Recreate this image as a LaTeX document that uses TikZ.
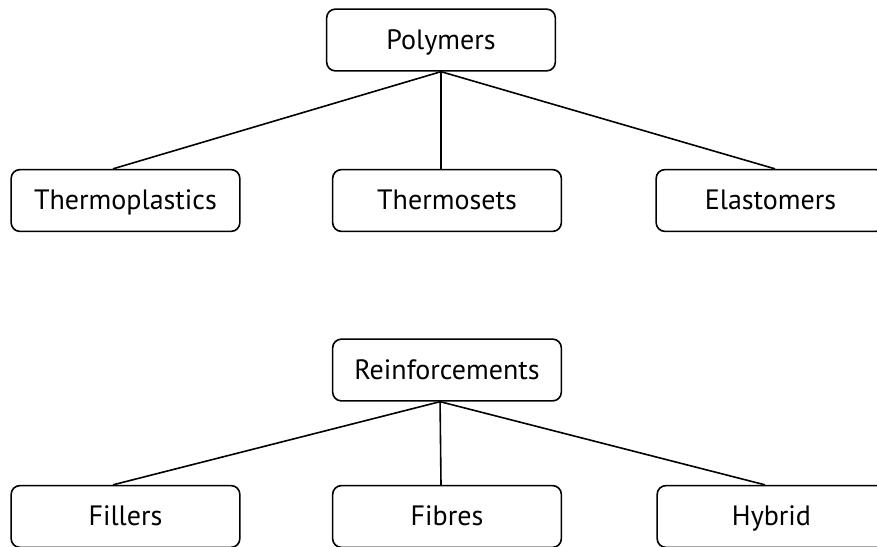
\documentclass[tikz,border=0pt]{standalone}
\usepackage{fontspec}
\setmainfont{PT Sans}
\usepackage{tikz}
\usetikzlibrary{positioning,calc}
\tikzset{
	box/.style={draw=black,fill=white,rounded corners=6.5pt,line width=1.2pt,
		minimum width=171.5pt,minimum height=46.3pt,inner sep=0pt,
		text height=19pt,text depth=4.8pt,font=\fontsize{21}{24}\selectfont},
	link/.style={draw=black,line width=1.2pt},
}
\begin{document}
\begin{tikzpicture}[x=0.75pt,y=-0.75pt]
	\useasboundingbox (0,0) rectangle (877,546);
	% polymers
	\node[box] (poly) at (441,40) {Polymers};
	\node[box] (thermopl) at (125.5,200.5) {Thermoplastics};
	\node[box] (thermoset) at (447,200.5) {Thermosets};
	\node[box] (elast) at (770.5,200.5) {Elastomers};
	\draw[link] (poly.south) -- ([xshift=-9.4pt]thermopl.north);
	\draw[link] (poly.south) -- ([xshift=-4.5pt]thermoset.north);
	\draw[link] (poly.south) -- ([xshift=3.4pt]elast.north);
	% reinforcements
	\node[box] (reinf) at (447,370) {Reinforcements};
	\node[box] (fill) at (125.5,516.5) {Fillers};
	\node[box] (fibre) at (447,516.5) {Fibres};
	\node[box] (hyb) at (771.5,516.5) {Hybrid};
	\draw[link] ([xshift=-5.2pt]reinf.south) -- ([xshift=-9.4pt]fill.north);
	\draw[link] ([xshift=-5.2pt]reinf.south) -- ([xshift=-4.5pt]fibre.north);
	\draw[link] ([xshift=-5.2pt]reinf.south) -- ([xshift=-4.9pt]hyb.north);
\end{tikzpicture}
\end{document}
